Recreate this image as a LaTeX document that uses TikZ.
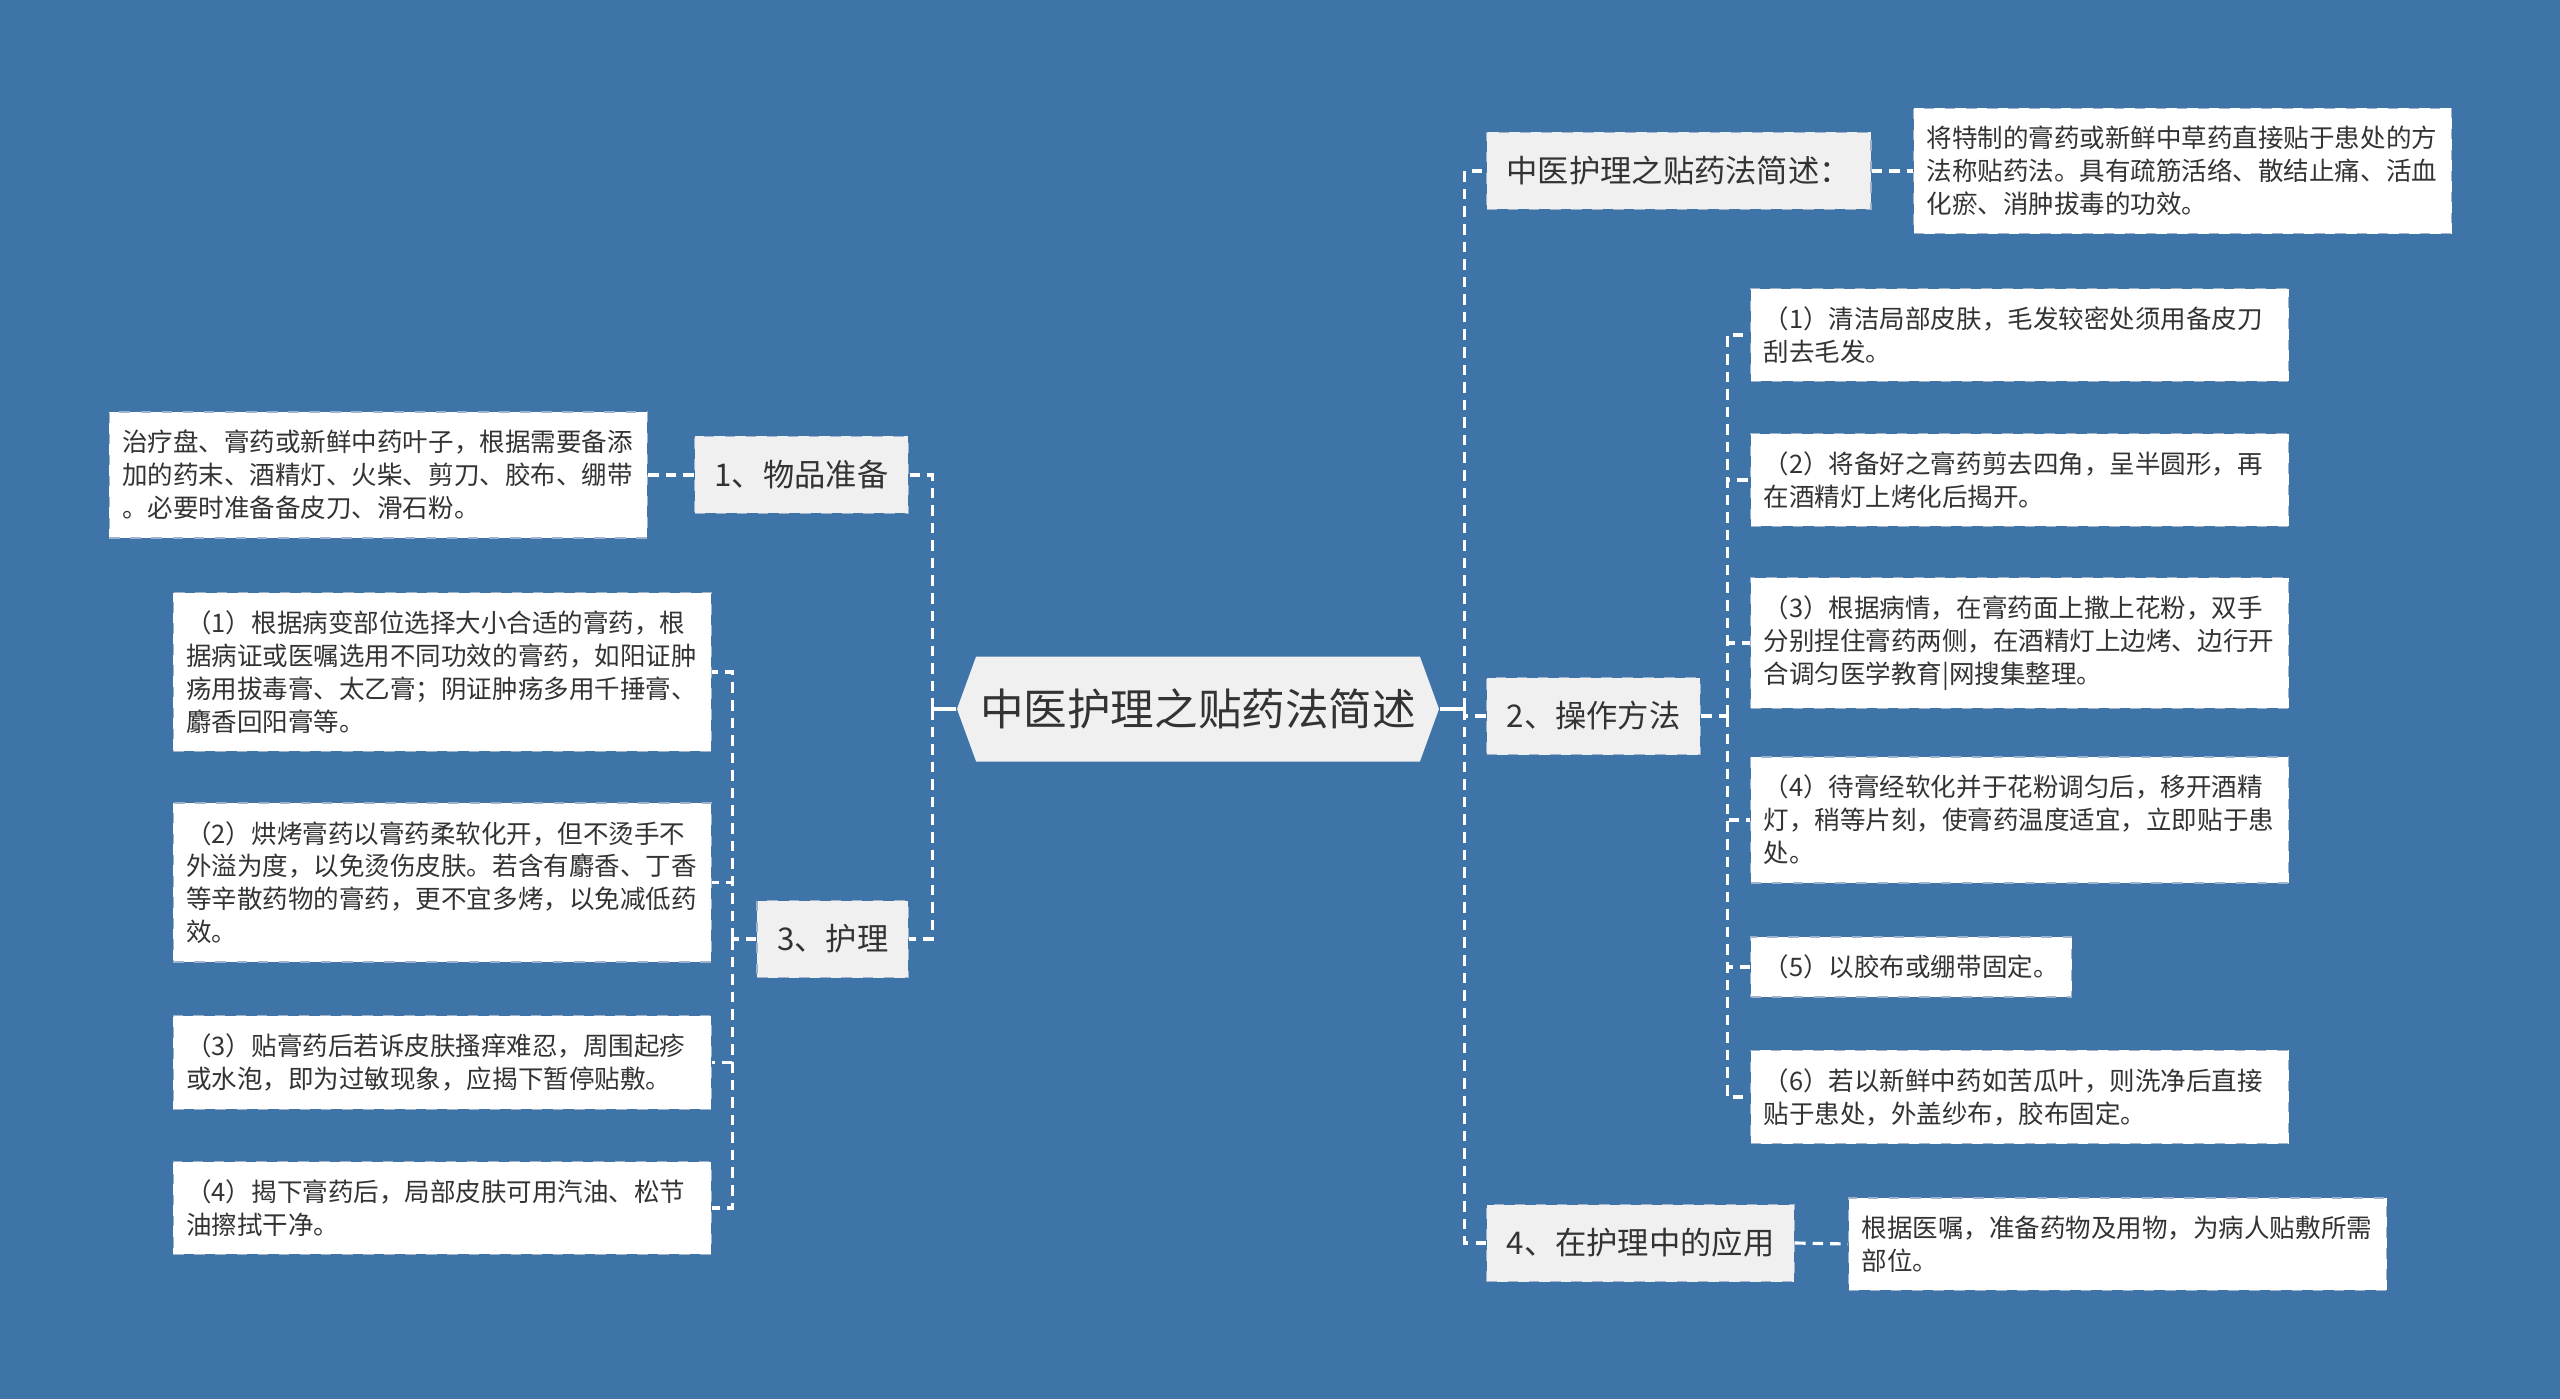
\documentclass[tikz,border=0pt]{standalone}
\usepackage{fontspec}
\usepackage{xcolor}
\usepackage{tikz}
\usetikzlibrary{positioning, calc, shapes.symbols}
\newfontfamily\cjk{Noto Sans CJK SC}
\definecolor{mblue}{HTML}{3E74A8}
\definecolor{mgray}{HTML}{F0F0F0}
\definecolor{medge}{HTML}{9FB4CA}
\definecolor{mtext}{HTML}{333333}

\begin{document}
\begin{tikzpicture}[x=1cm, y=1cm,
  rootbox/.style={shape=signal, signal to=west and east, signal pointer angle=140,
    fill=mgray, minimum width=4.82cm, minimum height=1.05cm, inner sep=0pt,
    font=\cjk\fontsize{12.4}{15}\selectfont, text=mtext},
  topic/.style={fill=mgray, draw=medge, dashed, line width=0.4pt, minimum height=0.77cm,
    inner xsep=0.2cm, font=\cjk\fontsize{8.9}{10.5}\selectfont, text=mtext},
  leaf/.style={fill=white, draw=medge, dashed, line width=0.4pt, align=left,
    text width=5.12cm, inner xsep=0.13cm, inner ysep=0.18cm,
    font=\cjk\fontsize{7.26}{9.36}\selectfont, text=mtext},
  link/.style={white, line width=0.9pt, dash pattern=on 3pt off 2pt},
  stub/.style={white, line width=0.9pt}]

%% Background
\fill[mblue] (0.0,0.0) rectangle (25.6,13.99);

%% ── Root ────────────────────────────────────────────────────────────────
\node[rootbox] (root) at (11.98,6.90) {中医护理之贴药法简述};

%% ── Left: 1 物品准备 ────────────────────────────────────────────────────
\node[topic, anchor=east] (prep) at (9.09,9.24) {1、物品准备};
\node[leaf, anchor=east] (prepinfo) at (6.48,9.24)
  {治疗盘、膏药或新鲜中药叶子，根据需要备添\\加的药末、酒精灯、火柴、剪刀、胶布、绷带\\。必要时准备备皮刀、滑石粉。};

%% ── Left: 3 护理 ────────────────────────────────────────────────────────
\node[topic, anchor=east] (care) at (9.09,4.60) {3、护理};
\node[leaf, anchor=east] (care1) at (7.12,7.27)
  {（1）根据病变部位选择大小合适的膏药，根\\据病证或医嘱选用不同功效的膏药，如阳证肿\\疡用拔毒膏、太乙膏；阴证肿疡多用千捶膏、\\麝香回阳膏等。};
\node[leaf, anchor=east] (care2) at (7.12,5.165)
  {（2）烘烤膏药以膏药柔软化开，但不烫手不\\外溢为度，以免烫伤皮肤。若含有麝香、丁香\\等辛散药物的膏药，更不宜多烤，以免减低药\\效。};
\node[leaf, anchor=east] (care3) at (7.12,3.365)
  {（3）贴膏药后若诉皮肤搔痒难忍，周围起疹\\或水泡，即为过敏现象，应揭下暂停贴敷。};
\node[leaf, anchor=east] (care4) at (7.12,1.91)
  {（4）揭下膏药后，局部皮肤可用汽油、松节\\油擦拭干净。};

%% ── Right: 简述 ──────────────────────────────────────────────────────────
\node[topic, anchor=west] (intro) at (14.86,12.28) {中医护理之贴药法简述：};
\node[leaf, anchor=west] (introinfo) at (19.13,12.28)
  {将特制的膏药或新鲜中草药直接贴于患处的方\\法称贴药法。具有疏筋活络、散结止痛、活血\\化瘀、消肿拔毒的功效。};

%% ── Right: 2 操作方法 ───────────────────────────────────────────────────
\node[topic, anchor=west] (steps) at (14.86,6.83) {2、操作方法};
\node[leaf, anchor=west] (step1) at (17.50,10.64)
  {（1）清洁局部皮肤，毛发较密处须用备皮刀\\刮去毛发。};
\node[leaf, anchor=west] (step2) at (17.50,9.19)
  {（2）将备好之膏药剪去四角，呈半圆形，再\\在酒精灯上烤化后揭开。};
\node[leaf, anchor=west] (step3) at (17.50,7.56)
  {（3）根据病情，在膏药面上撒上花粉，双手\\分别捏住膏药两侧，在酒精灯上边烤、边行开\\合调匀医学教育|网搜集整理。};
\node[leaf, anchor=west] (step4) at (17.50,5.79)
  {（4）待膏经软化并于花粉调匀后，移开酒精\\灯，稍等片刻，使膏药温度适宜，立即贴于患\\处。};
\node[leaf, anchor=west, text width={}] (step5) at (17.50,4.32)
  {（5）以胶布或绷带固定。};
\node[leaf, anchor=west] (step6) at (17.50,3.02)
  {（6）若以新鲜中药如苦瓜叶，则洗净后直接\\贴于患处，外盖纱布，胶布固定。};

%% ── Right: 4 在护理中的应用 ─────────────────────────────────────────────
\node[topic, anchor=west] (use) at (14.86,1.56) {4、在护理中的应用};
\node[leaf, anchor=west] (useinfo) at (18.48,1.55)
  {根据医嘱，准备药物及用物，为病人贴敷所需\\部位。};

%% ── Connectors ──────────────────────────────────────────────────────────
\coordinate (lbus) at ($(root.west)+(-0.24,0)$);
\coordinate (rbus) at ($(root.east)+(0.25,0)$);
\draw[stub] (root.west) -- (lbus);
\draw[stub] (root.east) -- (rbus);
\draw[link] (lbus) |- (prep.east);
\draw[link] (lbus) |- (care.east);
\draw[link] (rbus) |- (intro.west);
\draw[link] (rbus) |- (steps.west);
\draw[link] (rbus) |- (use.west);

\draw[link] (prep.west) -- (prepinfo.east);
\draw[link] (intro.east) -- (introinfo.west);
\draw[link] (use.east) -- (useinfo.west);

\coordinate (carebus) at ($(care.west)+(-0.24,0)$);
\draw[link] (care.west) -- (carebus);
\foreach \i in {1,...,4}
  \draw[link] (carebus) |- (care\i.east);

\coordinate (stepbus) at ($(steps.east)+(0.26,0)$);
\draw[link] (steps.east) -- (stepbus);
\foreach \i in {1,...,6}
  \draw[link] (stepbus) |- (step\i.west);

\end{tikzpicture}
\end{document}
